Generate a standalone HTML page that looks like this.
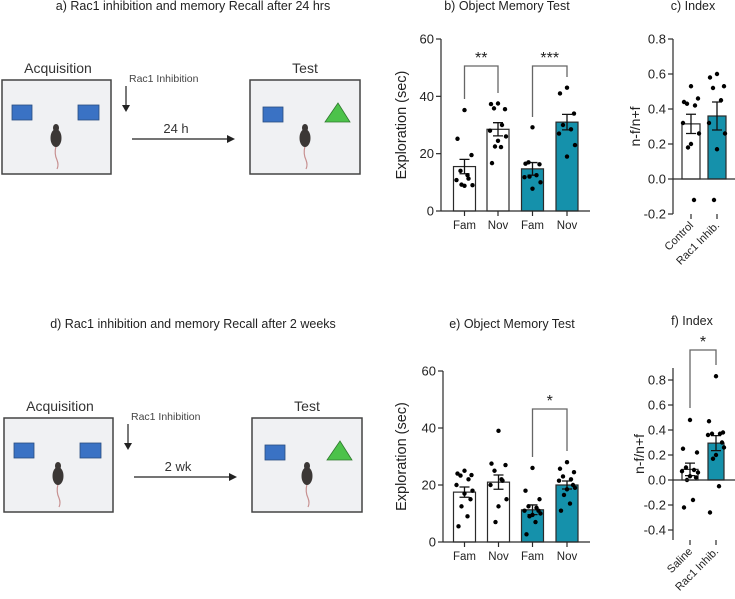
<!DOCTYPE html>
<html><head><meta charset="utf-8">
<style>
html,body{margin:0;padding:0;background:#fff;}
svg{display:block;font-family:"Liberation Sans",Arial,sans-serif;}
</style></head>
<body>
<svg id="fig" width="735" height="599" viewBox="0 0 735 599" xmlns="http://www.w3.org/2000/svg">
  <text x="193" y="10" font-size="12.5" text-anchor="middle" fill="#222">a) Rac1 inhibition and memory Recall after 24 hrs</text>
  <text x="193" y="328" font-size="12.5" text-anchor="middle" fill="#222">d) Rac1 inhibition and memory Recall after 2 weeks</text>
  <g id="schemA"></g>
  <g id="schemD" transform="translate(2,338)"></g>
  <text x="507" y="10" font-size="12.5" text-anchor="middle" fill="#222">b) Object Memory Test</text>
  <text x="693" y="10" font-size="12.5" text-anchor="middle" fill="#222">c) Index</text>
  <text x="512" y="328" font-size="12.5" text-anchor="middle" fill="#222">e) Object Memory Test</text>
  <text x="692" y="325" font-size="12.5" text-anchor="middle" fill="#222">f) Index</text>
  <g id="charts"></g>
</svg>
<script>
// ---- data ----
const catsExpl = ["Fam","Nov","Fam","Nov"];
const bMeans = [15.5, 28.5, 14.7, 31.0];
const bSem = [2.5, 2.3, 2.2, 2.7];
const bDots = [
  [35.2,25.2,19.5,14.0,11.3,10.8,9.0,8.8,9.2,12.5],
  [37.5,37.3,35.5,35.8,30.0,28.0,26.0,24.5,22.5,22.3,16.7],
  [29.2,16.5,16.3,17.0,12.5,11.8,10.0,7.8,12.0],
  [43.0,41.0,34.0,30.0,28.5,27.0,23.0,19.0]
];
const explTicks = [0,20,40,60];
const cCats = ["Control","Rac1 Inhib."];
const cMeans = [0.315, 0.36];
const cSem = [0.055, 0.08];
const cDots = [
  [0.53,0.44,0.46,0.43,0.42,0.32,0.26,0.20,0.18,-0.12],
  [0.60,0.58,0.53,0.52,0.45,0.32,0.26,0.17,-0.12]
];
const cTicks = [-0.2,0.0,0.2,0.4,0.6,0.8];
const eMeans = [17.5, 21.0, 11.3, 20.0];
const eSem = [1.8, 2.5, 1.7, 1.4];
const eDots = [
  [25,24,23.5,23.3,22,20,18,17,12.5,9,5.5,15],
  [39,27.5,27,25,21.5,20,15,12.5,7,22],
  [26,18,15,12.5,12,11,10,9.5,9,7,2.7,11],
  [28,25.7,24.5,23,22,21.5,19,18.5,16.5,13.5,11,20]
];
const fCats = ["Saline","Rac1 Inhib."];
const fMeans = [0.085, 0.295];
const fSem = [0.05, 0.06];
const fDots = [
  [0.48,0.25,0.22,0.10,0.08,0.07,0.06,0.03,0.0,-0.16,-0.22,0.02],
  [0.83,0.47,0.38,0.37,0.37,0.36,0.26,0.20,0.17,-0.05,-0.26,0.30]
];
const fTicks = [-0.4,-0.2,0.0,0.2,0.4,0.6,0.8];

const NS="http://www.w3.org/2000/svg";
function mk(tag, attrs, parent){const e=document.createElementNS(NS,tag);for(const k in attrs)e.setAttribute(k,attrs[k]);parent.appendChild(e);return e;}
const TEAL="#1591ab", INK="#2a2a2a";
const jit=[0,-7,7,-4,4,-8,8,0,-3,3,-6,6];

function chart(o){
  const g=mk('g',{},document.getElementById('charts'));
  
  
  const y=v=>o.y0+(v-o.v0)*(o.y1-o.y0)/(o.v1-o.v0);
  o.means.forEach((m,i)=>{
    const cx=o.xs[i];
    const r=mk('rect',{x:cx-o.bw/2,y:Math.min(y(m),y(0)),width:o.bw,height:Math.abs(y(0)-y(m)),fill:o.fills[i],stroke:INK,'stroke-width':1.2},g);
    
    
    const s=o.sem[i];
    const eb=mk('path',{d:`M${cx},${y(m-s)}V${y(m+s)}M${cx-5},${y(m+s)}H${cx+5}M${cx-5},${y(m-s)}H${cx+5}`,stroke:'#111','stroke-width':1.3,fill:'none'},g);
    
    
    o.dots[i].forEach((d,j)=>{
      const c=mk('circle',{cx:cx+jit[j%jit.length],cy:y(d),r:2.2,fill:'#000'},g);
      
      
    });
  });
  const ya=mk('line',{x1:o.ax,y1:o.ytop,x2:o.ax,y2:o.ybot,stroke:INK,'stroke-width':1.2},g);
  
  
  const xa=mk('line',{x1:o.ax,y1:y(0),x2:o.xend,y2:y(0),stroke:INK,'stroke-width':1.2},g);
  
  
  o.ticks.forEach(t=>{
    mk('line',{x1:o.ax-5,y1:y(t),x2:o.ax,y2:y(t),stroke:INK,'stroke-width':1.2},g);
    const tl=mk('text',{x:o.ax-7,y:y(t)+4.5,'font-size':13,'text-anchor':'end',fill:'#222'},g);
    tl.textContent=o.fmt(t);
    
    
  });
  o.cats.forEach((c,i)=>{
    mk('line',{x1:o.xs[i],y1:o.ybot,x2:o.xs[i],y2:o.ybot+5,stroke:INK,'stroke-width':1.2},g);
    let t;
    if(o.rot){
      t=mk('text',{x:o.xs[i]+3,y:o.ybot+12,'font-size':11,'text-anchor':'end',fill:'#222',transform:`rotate(-45 ${o.xs[i]+3} ${o.ybot+12})`},g);
    } else {
      t=mk('text',{x:o.xs[i],y:o.ybot+18,'font-size':11.5,'text-anchor':'middle',fill:'#222'},g);
    }
    t.textContent=c;
    
    
  });
  const yt=mk('text',{x:o.tx,y:(o.ytop+o.ybot)/2,'font-size':o.tfs,'text-anchor':'middle',fill:'#222',transform:`rotate(-90 ${o.tx} ${(o.ytop+o.ybot)/2})`},g);
  yt.textContent=o.title;
  
  
  (o.brackets||[]).forEach(b=>{
    const p=mk('path',{d:`M${o.xs[b.a]},${b.la}V${b.top}H${o.xs[b.b]}V${b.lb}`,stroke:'#666','stroke-width':1.3,fill:'none'},g);
    
    
    const s=mk('text',{x:(o.xs[b.a]+o.xs[b.b])/2,y:b.top-3,'font-size':16,'text-anchor':'middle',fill:'#222'},g);
    s.textContent=b.s;
    
    
  });
}
const f0=v=>String(v), f1=v=>v.toFixed(1);
const fills4=['#fff','#fff',TEAL,TEAL], fills2=['#fff',TEAL];
chart({name:'panel-b-chart',cats:catsExpl,means:bMeans,sem:bSem,dots:bDots,ticks:explTicks,fmt:f0,
  v0:0,v1:60,y0:211,y1:39,ytop:39,ybot:211,ax:441,xend:590,xs:[464.5,498,532.5,567],bw:22,fills:fills4,
  title:'Exploration (sec)',tx:406,tfs:14.5,
  brackets:[{a:0,b:1,top:66,la:99,lb:93,s:'**'},{a:2,b:3,top:66,la:117,lb:77,s:'***'}]});
chart({name:'panel-c-chart',cats:cCats,means:cMeans,sem:cSem,dots:cDots,ticks:cTicks,fmt:f1,
  v0:0,v1:0.8,y0:179,y1:39,ytop:39,ybot:214,ax:673,xend:735,xs:[691,717],bw:18,fills:fills2,
  title:'n-f/n+f',tx:640,tfs:14,rot:true});
chart({name:'panel-e-chart',cats:catsExpl,means:eMeans,sem:eSem,dots:eDots,ticks:explTicks,fmt:f0,
  v0:0,v1:60,y0:542,y1:371,ytop:371,ybot:542,ax:443,xend:590,xs:[464.5,498.5,532.5,567],bw:22,fills:fills4,
  title:'Exploration (sec)',tx:406,tfs:14.5,
  brackets:[{a:2,b:3,top:409,la:457,lb:451,s:'*'}]});
chart({name:'panel-f-chart',cats:fCats,means:fMeans,sem:fSem,dots:fDots,ticks:fTicks,fmt:f1,
  v0:0,v1:0.8,y0:480,y1:380,ytop:368,ybot:540,ax:673,xend:735,xs:[690,716],bw:16,fills:fills2,
  title:'n-f/n+f',tx:644,tfs:14,rot:true,
  brackets:[{a:0,b:1,top:350,la:408,lb:365,s:'*'}]});

function mouse(g,cx){
  mk('path',{d:`M${cx},${146} q-2,8 1,14 q2,5 0,9`,stroke:'#c79090','stroke-width':1.2,fill:'none'},g);
  mk('ellipse',{cx:cx,cy:138,rx:5.5,ry:9,fill:'#3b3735'},g);
  mk('ellipse',{cx:cx,cy:128,rx:3,ry:4,fill:'#3b3735'},g);
}
function schematic(id,lbl){
  const g=document.getElementById(id);
  const t1=mk('text',{x:58,y:73,'font-size':14,'text-anchor':'middle',fill:'#333'},g);t1.textContent='Acquisition';
  
  
  const b1=mk('rect',{x:2,y:80,width:109,height:94,fill:'#f0f1f3',stroke:'#444','stroke-width':1.5},g);
  
  
  mk('rect',{x:12,y:105,width:20,height:15,fill:'#3a72c4',stroke:'#2a4d80','stroke-width':0.8},g);
  mk('rect',{x:78,y:105,width:21,height:15,fill:'#3a72c4',stroke:'#2a4d80','stroke-width':0.8},g);
  mouse(g,56);
  const t2=mk('text',{x:305,y:73,'font-size':14,'text-anchor':'middle',fill:'#333'},g);t2.textContent='Test';
  
  
  const b2=mk('rect',{x:250,y:80,width:110,height:94,fill:'#f0f1f3',stroke:'#444','stroke-width':1.5},g);
  
  
  mk('rect',{x:263,y:107,width:20,height:15,fill:'#3a72c4',stroke:'#2a4d80','stroke-width':0.8},g);
  mk('polygon',{points:'325,122 338,103 350,122',fill:'#4cc24a',stroke:'#2f7a2e','stroke-width':0.8},g);
  mouse(g,305);
  const t3=mk('text',{x:129,y:82,'font-size':10.5,fill:'#444'},g);t3.textContent='Rac1 Inhibition';
  
  
  mk('line',{x1:126,y1:86,x2:126,y2:106,stroke:'#222','stroke-width':1.2},g);
  mk('polygon',{points:'122,105 130,105 126,112',fill:'#222'},g);
  const t4=mk('text',{x:176,y:133,'font-size':13,'text-anchor':'middle',fill:'#333'},g);t4.textContent=lbl;
  
  
  mk('line',{x1:132,y1:139,x2:228,y2:139,stroke:'#222','stroke-width':1.3},g);
  mk('polygon',{points:'227,135 235,139 227,143',fill:'#222'},g);
}
schematic('schemA','24 h');
schematic('schemD','2 wk');
</script>
</body></html>
